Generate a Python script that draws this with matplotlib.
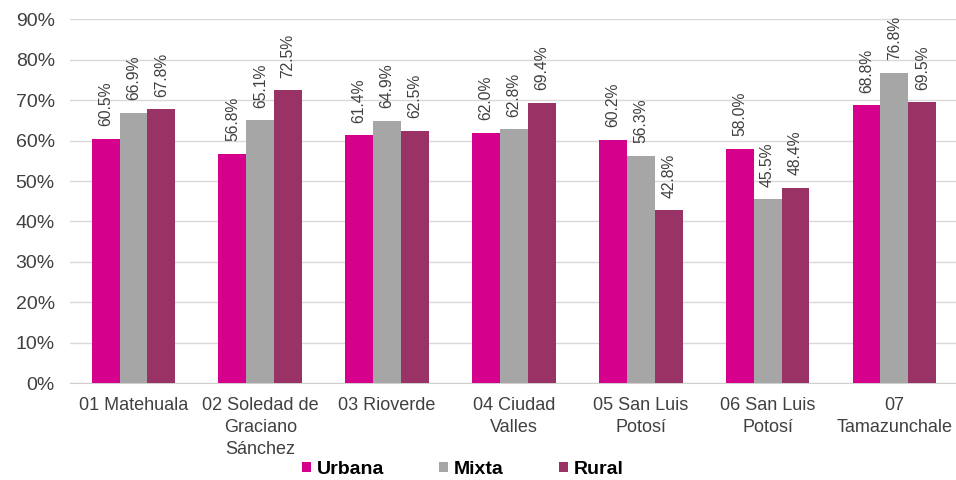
import matplotlib
matplotlib.use("Agg")
import matplotlib.pyplot as plt
import numpy as np

plt.rcParams['font.family'] = ['Liberation Sans', 'DejaVu Sans']

categories = ["01 Matehuala", "02 Soledad de\nGraciano\nSánchez", "03 Rioverde",
              "04 Ciudad\nValles", "05 San Luis\nPotosí", "06 San Luis\nPotosí",
              "07\nTamazunchale"]
urbana = [60.5, 56.8, 61.4, 62.0, 60.2, 58.0, 68.8]
mixta = [66.9, 65.1, 64.9, 62.8, 56.3, 45.5, 76.8]
rural = [67.8, 72.5, 62.5, 69.4, 42.8, 48.4, 69.5]
series_names = ["Urbana", "Mixta", "Rural"]
colors = ["#D5008C", "#A6A6A6", "#993366"]
yticks = [0, 10, 20, 30, 40, 50, 60, 70, 80, 90]

fig = plt.figure(figsize=(9.56, 4.8), dpi=100)
ax = fig.add_axes([70.1 / 956, 97 / 480, (956 - 70.1) / 956, 363.5 / 480])

x = np.arange(len(categories))
w = 0.22
for i, (vals, name, c) in enumerate(zip([urbana, mixta, rural], series_names, colors)):
    pos = x + (i - 1) * w
    ax.bar(pos, vals, width=w, color=c, label=name, zorder=3)
    for px, v in zip(pos, vals):
        ax.annotate(f"{v:.1f}%", (px, v), xytext=(0, 9), textcoords='offset points',
                    rotation=90, ha='center', va='bottom',
                    fontsize=11.3, color='#404040')

ax.set_xlim(-0.5, len(categories) - 0.5 - 1.8 / 126.8)
ax.set_ylim(0, 90)
ax.set_yticks(yticks)
ax.set_yticklabels([f"{t}%" for t in yticks], fontsize=14, color='#404040')
ax.set_xticks(x)
ax.set_xticklabels(categories, fontsize=13, color='#404040', linespacing=1.4)
ax.tick_params(axis='both', length=0)
ax.tick_params(axis='x', pad=10)
ax.tick_params(axis='y', pad=11)
ax.grid(axis='y', color='#D9D9D9', linewidth=1, zorder=0)
for s in ['top', 'right', 'left']:
    ax.spines[s].set_visible(False)
ax.spines['bottom'].set_color('#D0D0D0')

leg = fig.legend(loc='center', bbox_to_anchor=(0.484, 0.022), ncol=3, frameon=False,
                 prop={'weight': 'bold', 'size': 14}, handlelength=0.45, handleheight=0.45,
                 columnspacing=2.85, handletextpad=0.3)

fig.savefig("out.png", dpi=100)
